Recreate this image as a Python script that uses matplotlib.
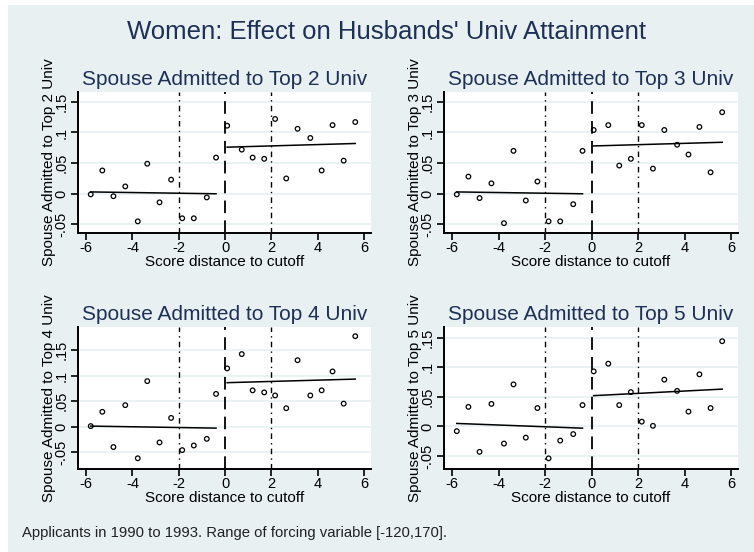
import matplotlib
matplotlib.use("Agg")
import matplotlib.pyplot as plt
from matplotlib.patches import Rectangle

plt.rcParams['font.family'] = ['Liberation Sans', 'DejaVu Sans']

BG = '#e8f0f2'
NAVY = '#1f3056'

# bin midpoints (score distance to cutoff)
x_bins = [-5.8, -5.3, -4.82, -4.31, -3.77, -3.36, -2.83, -2.33, -1.85, -1.35, -0.79, -0.39,
          0.09, 0.72, 1.19, 1.69, 2.16, 2.64, 3.13, 3.68, 4.17, 4.64, 5.12, 5.62]

top2 = [-0.001, 0.038, -0.004, 0.012, -0.045, 0.049, -0.014, 0.023, -0.040, -0.040, -0.006, 0.059,
        0.111, 0.072, 0.059, 0.057, 0.122, 0.025, 0.106, 0.091, 0.038, 0.112, 0.054, 0.117]
top3 = [-0.001, 0.028, -0.007, 0.017, -0.048, 0.070, -0.011, 0.020, -0.045, -0.045, -0.017, 0.070,
        0.104, 0.112, 0.046, 0.057, 0.112, 0.041, 0.104, 0.080, 0.064, 0.109, 0.035, 0.133]
top4 = [0.001, 0.029, -0.040, 0.042, -0.062, 0.089, -0.031, 0.017, -0.046, -0.037, -0.024, 0.064,
        0.114, 0.142, 0.071, 0.067, 0.061, 0.036, 0.130, 0.061, 0.071, 0.108, 0.045, 0.177]
top5 = [-0.008, 0.033, -0.043, 0.038, -0.029, 0.071, -0.019, 0.031, -0.054, -0.024, -0.013, 0.036,
        0.093, 0.106, 0.036, 0.058, 0.008, 0.001, 0.079, 0.060, 0.025, 0.088, 0.031, 0.144]

# fitted line values at first/last bin, left and right of cutoff
fit_left = {2: (0.003, 0.0), 3: (0.003, 0.0), 4: (0.001, -0.003), 5: (0.005, -0.003)}
fit_right = {2: (0.076, 0.082), 3: (0.078, 0.084), 4: (0.086, 0.093), 5: (0.052, 0.063)}

panels = [(2, top2, (-0.064, 0.166), [-0.05, 0, 0.05, 0.1, 0.15]),
          (3, top3, (-0.064, 0.166), [-0.05, 0, 0.05, 0.1, 0.15]),
          (4, top4, (-0.083, 0.195), [-0.05, 0, 0.05, 0.1, 0.15]),
          (5, top5, (-0.072, 0.168), [-0.05, 0, 0.05, 0.1, 0.15])]
ytick_labels = ['-.05', '0', '.05', '.1', '.15']
xticks = [-6, -4, -2, 0, 2, 4, 6]

W, H = 754, 552
fig = plt.figure(figsize=(W / 100, H / 100), dpi=100)
fig.patch.set_facecolor('white')
fig.patches.append(Rectangle((8 / W, 0), 1, 1 - 5 / H, transform=fig.transFigure,
                             facecolor=BG, edgecolor='none', zorder=-10))

# axes boxes in pixels: left, top, right, bottom
boxes = [(78, 92, 371, 233), (444, 92, 738, 233),
         (78, 327, 371, 469), (444, 327, 738, 469)]

for (k, vals, ylim, yt), (l, t, r, b) in zip(panels, boxes):
    ax = fig.add_axes([l / W, 1 - b / H, (r - l) / W, (b - t) / H])
    ax.set_facecolor('white')
    ax.set_xlim(-6.35, 6.3)
    ax.set_ylim(*ylim)
    for s in ['top', 'right']:
        ax.spines[s].set_visible(False)
    for s in ['left', 'bottom']:
        ax.spines[s].set_linewidth(1.4)
    ax.set_yticks(yt)
    ax.set_yticklabels(ytick_labels, rotation=90, va='center', fontsize=10.5)
    ax.set_xticks(xticks)
    ax.set_xticklabels([str(v) for v in xticks], fontsize=10.5)
    ax.tick_params(axis='both', length=5, width=1.2, pad=2)
    ax.tick_params(axis='x', pad=1)
    for v in yt:
        ax.axhline(v, color=BG, lw=1.2, zorder=0)

    ax.scatter(x_bins, vals, s=11, facecolors='none', edgecolors='black', linewidths=0.9, zorder=3)
    xl = [x for x in x_bins if x < 0]
    xr = [x for x in x_bins if x > 0]
    ax.plot([xl[0], xl[-1]], list(fit_left[k]), color='black', lw=1.1, zorder=2)
    ax.plot([xr[0], xr[-1]], list(fit_right[k]), color='black', lw=1.1, zorder=2)

    ax.axvline(0, color='black', lw=1.3, dashes=(7, 4), zorder=1)
    ax.axvline(-2, color='black', lw=1.0, dashes=(4, 3, 1, 3), zorder=1)
    ax.axvline(2, color='black', lw=1.0, dashes=(4, 3, 1, 3), zorder=1)

    ax.set_title('Spouse Admitted to Top %d Univ' % k, fontsize=15, color=NAVY, pad=5)
    ax.set_xlabel('Score distance to cutoff', fontsize=11, labelpad=-0.5)
    ax.set_ylabel('Spouse Admitted to Top %d Univ' % k, fontsize=11, labelpad=-1)

fig.text(0.513, 1 - 32 / H, "Women: Effect on Husbands' Univ Attainment", ha='center', va='center',
         fontsize=18.5, color=NAVY)
fig.text(22 / W, 1 - 533 / H, 'Applicants in 1990 to 1993. Range of forcing variable [-120,170].',
         ha='left', va='center', fontsize=10.7, color='#222222')

fig.savefig('out.png', dpi=100, facecolor=fig.get_facecolor())
